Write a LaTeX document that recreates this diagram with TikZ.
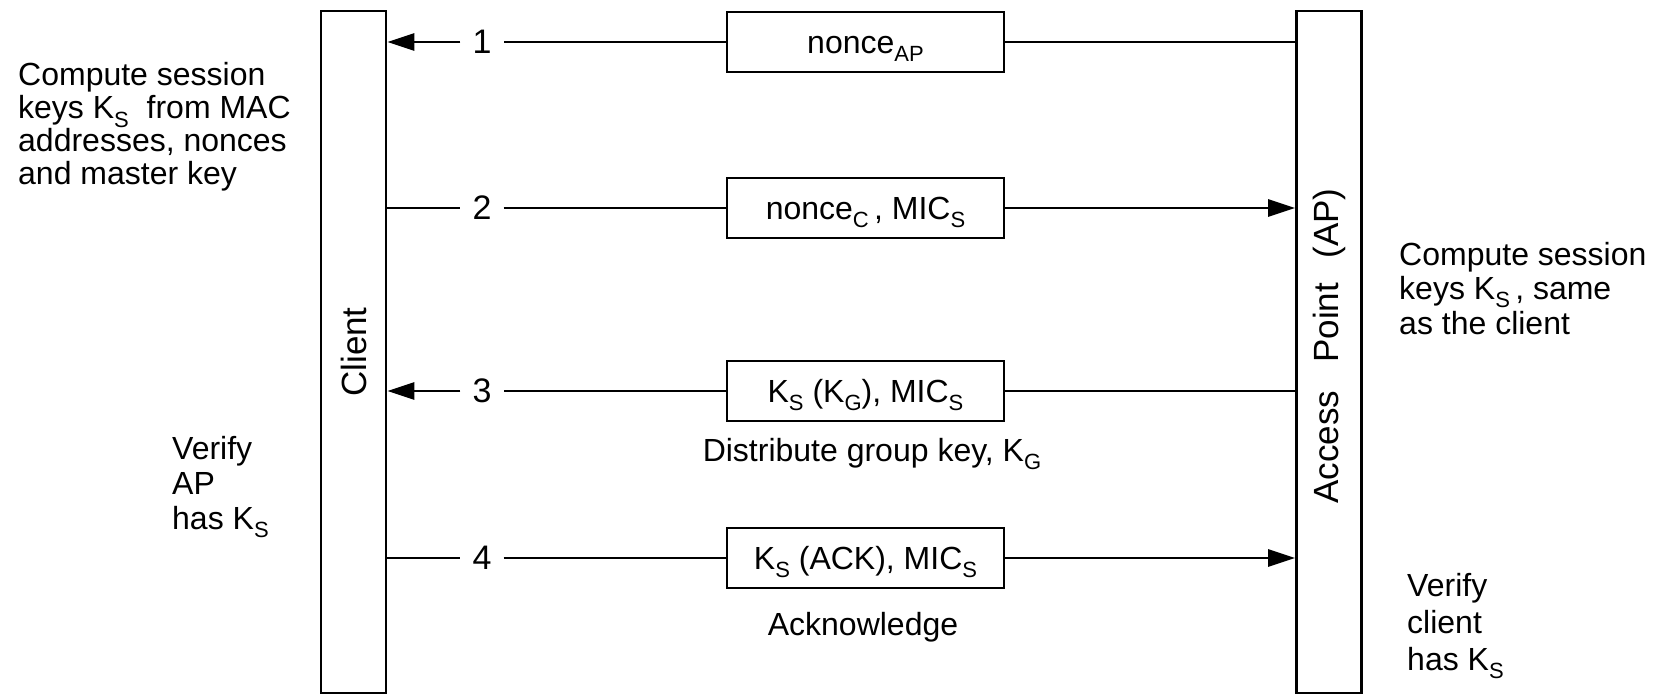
\documentclass[tikz,border=0pt]{standalone}
\usepackage{fontspec}
\setmainfont{Liberation Sans}
\usetikzlibrary{arrows.meta}
% lowered, smaller index text (K_S, MIC_S, nonce_AP)
\newcommand\lowsub[1]{\raisebox{-0.26em}{\fontsize{22}{22}\selectfont #1}}

\begin{document}
\begin{tikzpicture}[x=1pt,y=-1pt,
  every node/.style={font=\fontsize{32}{33}\selectfont, inner sep=0pt},
  msgbox/.style={draw, line width=2.8pt, minimum width=277pt, minimum height=60pt,
    text height=23pt, text depth=0pt},
  lifeline/.style={draw, line width=2.8pt, minimum width=65pt, minimum height=682pt},
  barlabel/.style={rotate=90, font=\fontsize{35}{35}\selectfont},
  link/.style={line width=2.8pt},
  tip/.style={link, -{Triangle[length=27pt,width=17pt]}},
  stepnum/.style={inner xsep=12pt, font=\fontsize{34}{34}\selectfont},
  note/.style={align=left, anchor=base west},
  caption/.style={anchor=base}
]
\useasboundingbox (0,0) rectangle (1659,695);

% the two parties
\node[lifeline] (client) at (353.5,352) {};
\node[lifeline] (ap) at (1329,352) {};
\node[barlabel] at (353.5,352) {Client};
\node[barlabel] at (1329,346) {Access\hspace{0.8em}Point\hspace{0.7em}(AP)};

% messages
\node[msgbox] (m1) at (865.5,42) {nonce\lowsub{AP}};
\node[msgbox] (m2) at (865.5,208) {nonce\lowsub{C}\,, MIC\lowsub{S}};
\node[msgbox] (m3) at (865.5,391) {K\lowsub{S} (K\lowsub{G}), MIC\lowsub{S}};
\node[msgbox] (m4) at (865.5,558) {K\lowsub{S} (ACK), MIC\lowsub{S}};

\node[stepnum] (n1) at (482,42) {1};
\node[stepnum] (n2) at (482,208) {2};
\node[stepnum] (n3) at (482,391) {3};
\node[stepnum] (n4) at (482,558) {4};

% 1: AP -> client
\draw[link] (m1.east -| ap.west) -- (m1.east);
\draw[link] (m1.west) -- (n1.east);
\draw[tip] (n1.west) -- (n1.west -| client.east);
% 2: client -> AP
\draw[link] (n2.west -| client.east) -- (n2.west);
\draw[link] (n2.east) -- (m2.west);
\draw[tip] (m2.east) -- (m2.east -| ap.west);
% 3: AP -> client
\draw[link] (m3.east -| ap.west) -- (m3.east);
\draw[link] (m3.west) -- (n3.east);
\draw[tip] (n3.west) -- (n3.west -| client.east);
% 4: client -> AP
\draw[link] (n4.west -| client.east) -- (n4.west);
\draw[link] (n4.east) -- (m4.west);
\draw[tip] (m4.east) -- (m4.east -| ap.west);

% captions under the messages
\node[caption] (c3) at (872,461) {Distribute group key, K\lowsub{G}};
\node[caption] (c4) at (863,635) {Acknowledge};

% side notes (anchored at the baseline of their last line)
\node[note] (l1) at (18,185) {Compute session\\keys K\lowsub{S}\ \ from MAC\\addresses, nonces\\and master key};
\node[note, font=\fontsize{32}{35}\selectfont] (l2) at (172,529) {Verify\\AP\\has K\lowsub{S}};
\node[note, font=\fontsize{32}{34.5}\selectfont] (r1) at (1399,334) {Compute session\\keys K\lowsub{S}\,, same\\as the client};
\node[note, font=\fontsize{32}{37}\selectfont] (r2) at (1407,670) {Verify\\client\\has K\lowsub{S}};
\end{tikzpicture}
\end{document}
